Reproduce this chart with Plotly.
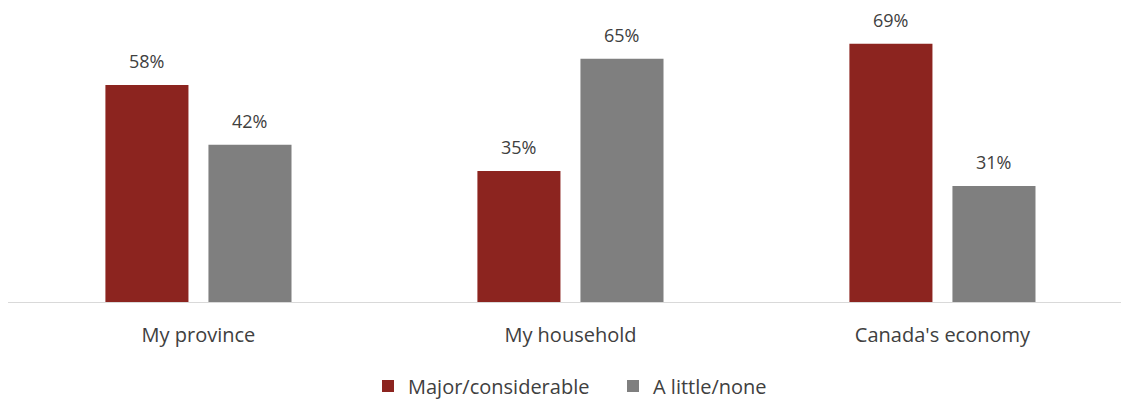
import plotly.graph_objects as go

categories = ["My province", "My household", "Canada's economy"]
major = [58, 35, 69]
little = [42, 65, 31]
series_names = ["Major/considerable", "A little/none"]
colors = ["#8C241F", "#7F7F7F"]

FONT = "Open Sans"
TXT = "#404040"
BARGAP = 0.446
GROUPGAP = 0.194
fig = go.Figure()
for name, vals, col in zip(series_names, [major, little], colors):
    fig.add_trace(go.Bar(x=categories, y=vals, name=name, marker_color=col,
                         marker_line_width=0, hoverinfo="skip"))

# value labels centered over each bar
slot = (1 - BARGAP) / 2
for i, vals in enumerate([major, little]):
    dx = -slot / 2 if i == 0 else slot / 2
    for j, v in enumerate(vals):
        fig.add_annotation(x=j + dx, y=v, text=f"{v}%",
                           showarrow=False, yanchor="bottom", yshift=10,
                           font=dict(family=FONT, size=18, color=TXT))

fig.update_layout(
    width=1121, height=400,
    margin=dict(l=8, r=0, t=0, b=98, autoexpand=False),
    plot_bgcolor="white", paper_bgcolor="white",
    barmode="group", bargap=BARGAP, bargroupgap=GROUPGAP,
    font=dict(family=FONT, size=20, color=TXT),
    showlegend=True,
    legend=dict(orientation="h", x=(368 - 8) / 1113, xref="paper", xanchor="left",
                y=0.035, yref="container", yanchor="middle",
                font=dict(family=FONT, size=20, color=TXT), itemwidth=30,
                entrywidth=200, entrywidthmode="pixels",
                traceorder="normal"),
    xaxis=dict(range=[-0.512, 2.48], showline=True, linecolor="#D9D9D9", linewidth=1,
               ticks="", showgrid=False, ticklabelstandoff=15, automargin=False,
               tickfont=dict(family=FONT, size=20, color=TXT)),
    yaxis=dict(range=[0, 80.7], visible=False, showgrid=False, automargin=False),
)
fig.write_html("out.html")
